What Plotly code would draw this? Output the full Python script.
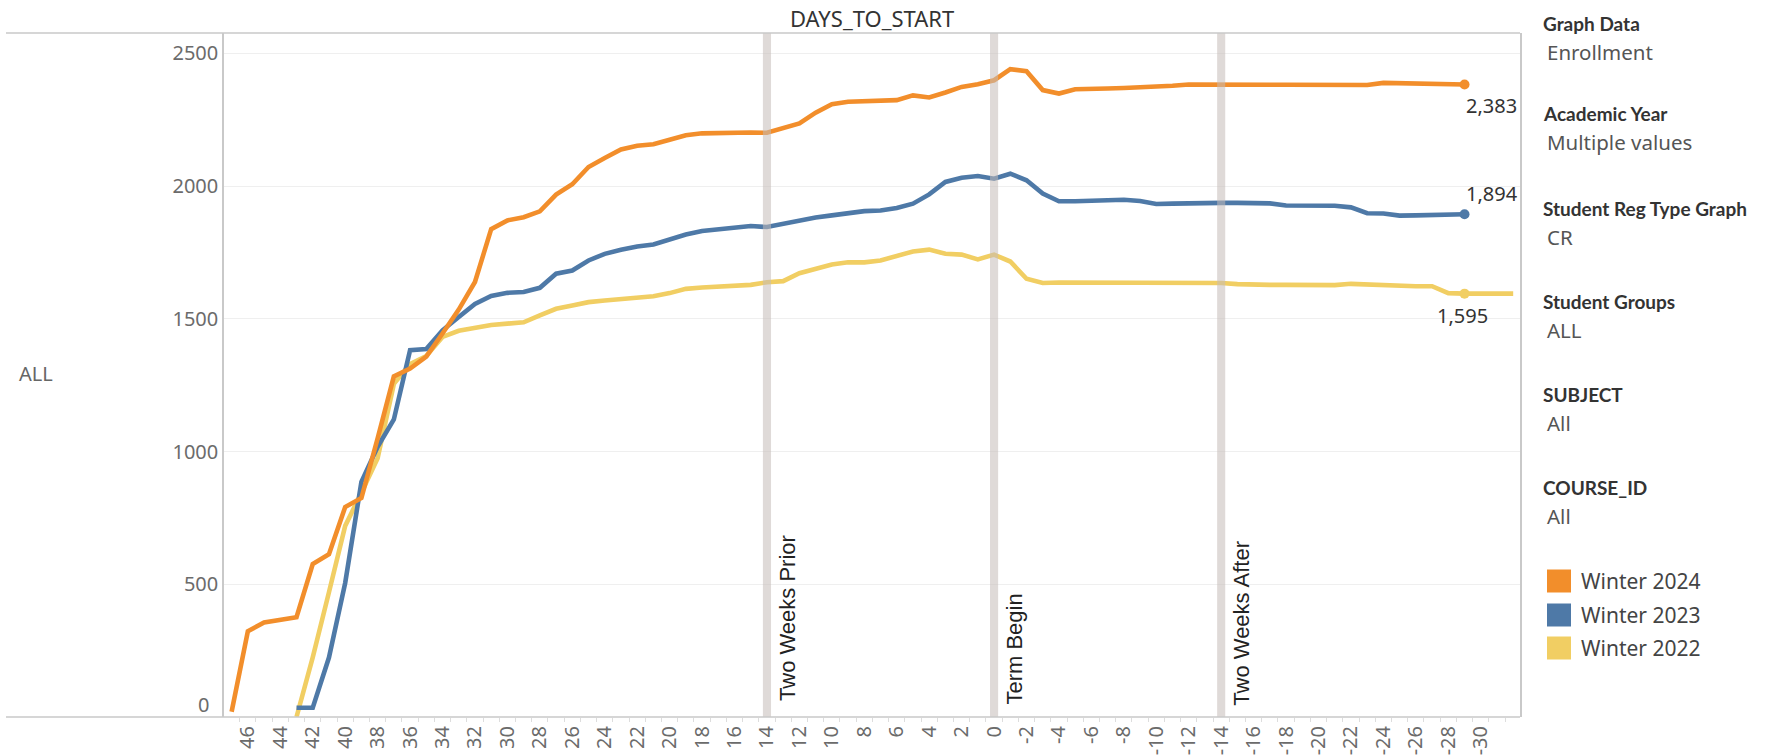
import plotly.graph_objects as go

# ---------------- data ----------------
series_names = ["Winter 2024", "Winter 2023", "Winter 2022"]
series_colors = ["#F28E2B", "#4E79A7", "#F1CE63"]
series_start_day = [47, 43, 43]

enroll_2024 = [20, 323, 356, 368, 376, 576, 613, 791, 825, 1050,
               1283, 1313, 1358, 1445, 1535, 1639, 1838, 1871, 1883, 1905,
               1968, 2007, 2072, 2106, 2138, 2152, 2158, 2175, 2192, 2199,
               2201, 2201, 2202, 2201, 2219, 2236, 2277, 2309, 2318, 2321,
               2324, 2324, 2342, 2334, 2353, 2374, 2384, 2399, 2441, 2433,
               2362, 2349, 2365, 2365, 2368, 2370, 2372, 2374, 2378, 2383,
               2382, 2382, 2382, 2382, 2382, 2382, 2382, 2382, 2382, 2382,
               2381, 2389, 2388, 2387, 2386, 2385, 2383]
enroll_2023 = [35, 35, 224, 505, 886, 1018, 1121, 1382, 1386, 1457,
               1507, 1556, 1586, 1598, 1601, 1617, 1670, 1682, 1720, 1745,
               1760, 1773, 1780, 1798, 1818, 1831, 1836, 1843, 1850, 1846,
               1858, 1871, 1882, 1890, 1899, 1906, 1908, 1918, 1934, 1969,
               2016, 2032, 2038, 2028, 2047, 2022, 1972, 1943, 1943, 1944,
               1945, 1949, 1944, 1933, 1934, 1936, 1937, 1937, 1937, 1935,
               1935, 1927, 1926, 1926, 1926, 1920, 1898, 1897, 1889, 1890,
               1891, 1892, 1894]
enroll_2022 = [0, 225, 470, 720, 845, 975, 1255, 1330, 1360, 1432,
               1455, 1468, 1477, 1482, 1487, 1513, 1538, 1550, 1563, 1569,
               1574, 1577, 1585, 1597, 1613, 1618, 1621, 1623, 1628, 1638,
               1642, 1672, 1690, 1705, 1713, 1713, 1720, 1739, 1754, 1761,
               1745, 1742, 1724, 1742, 1716, 1651, 1635, 1637, 1637, 1637,
               1637, 1635, 1637, 1635, 1635, 1635, 1635, 1635, 1631, 1628,
               1628, 1628, 1628, 1628, 1627, 1632, 1630, 1624, 1622, 1623,
               1623, 1597, 1595, 1595, 1595, 1595]
series_values = [enroll_2024, enroll_2023, enroll_2022]
label_day = -29

x_tick_days = list(range(46, -31, -2))
x_tick_labels = [str(d) for d in x_tick_days]
y_tick_vals = [0, 500, 1000, 1500, 2000, 2500]
y_tick_labels = ["0", "500", "1000", "1500", "2000", "2500"]

ref_days = [14, 0, -14]
ref_labels = ["Two Weeks Prior", "Term Begin", "Two Weeks After"]

header_text = "DAYS_TO_START"
row_label = "ALL"
filter_titles = ["Graph Data", "Academic Year", "Student Reg Type Graph",
                 "Student Groups", "SUBJECT", "COURSE_ID"]
filter_values = ["Enrollment", "Multiple values", "CR", "ALL", "All", "All"]

# ---------------- layout geometry (pixels) ----------------
W, H = 1785, 755
L, R, T, B = 224, 1520, 33, 717


def px(xp):
    return (xp - L) / (R - L)


def py(yp):
    return (B - yp) / (B - T)


TXT_FONT = "Noto Sans, Open Sans, sans-serif"
TICK_FONT = dict(family=TXT_FONT, size=20, color="#6b6b6b")

fig = go.Figure()

# lines: yellow first, orange on top
for i in [2, 1, 0]:
    vals = series_values[i]
    days = [series_start_day[i] - k for k in range(len(vals))]
    fig.add_trace(go.Scatter(
        x=days, y=vals, mode="lines", name=series_names[i],
        line=dict(color=series_colors[i], width=4.6),
        hovertemplate="%{x}: %{y:,}<extra>" + series_names[i] + "</extra>",
    ))
    idx = days.index(label_day)
    fig.add_trace(go.Scatter(
        x=[label_day], y=[vals[idx]], mode="markers", showlegend=False,
        marker=dict(color=series_colors[i], size=10), hoverinfo="skip",
    ))

# end-of-line value labels
label_offsets = [("left", -1, -21), ("left", -1, 21), ("center", -2, -22)]
for i, vals in enumerate(series_values):
    days = [series_start_day[i] - k for k in range(len(vals))]
    v = vals[days.index(label_day)]
    xa, xs, ys = label_offsets[i]
    fig.add_annotation(
        x=label_day, y=v, text=f"{v:,}", showarrow=False,
        xanchor=xa, yanchor="middle", xshift=xs, yshift=ys,
        font=dict(family=TXT_FONT, size=20, color="#333333"),
    )

# reference bands + labels
ref_label_bottom = [703, 707, 708]
for d, lab, yb in zip(ref_days, ref_labels, ref_label_bottom):
    fig.add_shape(type="rect", xref="x", yref="paper",
                  x0=d + 0.25, x1=d - 0.25, y0=0, y1=1,
                  fillcolor="rgba(196,188,184,0.55)", line_width=0, layer="above")
    fig.add_annotation(
        x=d, xref="x", y=py(yb), yref="paper", text=lab, textangle=-90,
        showarrow=False, xanchor="center", yanchor="bottom", xshift=20,
        font=dict(family="Liberation Sans, Arial, sans-serif", size=22, color="#222222"),
    )

# header / row-area border lines
line_col = "#c9c9c9"
fig.add_shape(type="line", xref="paper", yref="paper", x0=px(6), x1=1, y0=1, y1=1,
              line=dict(color=line_col, width=1.5))
fig.add_shape(type="line", xref="paper", yref="paper", x0=px(6), x1=1, y0=0, y1=0,
              line=dict(color=line_col, width=1.5))

fig.add_annotation(xref="paper", yref="paper", x=0.5, y=py(18), text=header_text,
                   showarrow=False, xanchor="center", yanchor="middle",
                   font=dict(family=TXT_FONT, size=22, color="#333333"))
fig.add_annotation(xref="paper", yref="paper", x=px(17), y=py(373), text=row_label,
                   showarrow=False, xanchor="left", yanchor="middle",
                   font=dict(family=TXT_FONT, size=20, color="#666666"))
# "0" tick label sits inside the pane like the original
fig.add_annotation(xref="paper", yref="paper", x=px(211), y=py(704), text=y_tick_labels[0],
                   showarrow=False, xanchor="right", yanchor="middle", font=TICK_FONT)

# filter panel
title_y = [23, 113, 208, 301, 394, 487]
for t, v, yt in zip(filter_titles, filter_values, title_y):
    fig.add_annotation(xref="paper", yref="paper", x=px(1541), y=py(yt), text=t,
                       showarrow=False, xanchor="left", yanchor="middle",
                       font=dict(family="Lato, Noto Sans, sans-serif", size=19,
                                 color="#333333", weight="bold"))
    fig.add_annotation(xref="paper", yref="paper", x=px(1545), y=py(yt + 29), text=v,
                       showarrow=False, xanchor="left", yanchor="middle",
                       font=dict(family=TXT_FONT, size=20.5, color="#555555"))

# colour legend
legend_y = [581, 615, 648]
for name, col, yl in zip(series_names, series_colors, legend_y):
    fig.add_shape(type="rect", xref="paper", yref="paper",
                  x0=px(1547), x1=px(1571), y0=py(yl + 11.5), y1=py(yl - 11.5),
                  fillcolor=col, line_width=0)
    fig.add_annotation(xref="paper", yref="paper", x=px(1579), y=py(yl), text=name,
                       showarrow=False, xanchor="left", yanchor="middle",
                       font=dict(family=TXT_FONT, size=21, color="#444444"))

fig.update_xaxes(
    range=[47.47, -32.42], tickmode="array", tickvals=x_tick_days, ticktext=x_tick_labels,
    tickangle=-90, tickfont=TICK_FONT, ticks="", ticklabelstandoff=4, automargin=False,
    showgrid=False, zeroline=False, showline=False,
    minor=dict(tickmode="array", tickvals=[d + 0.5 for d in range(47, -33, -1)],
               ticks="outside", ticklen=4, tickcolor="#dddddd", tickwidth=1, showgrid=False),
)
fig.update_yaxes(
    range=[0, 2577], tickmode="array", tickvals=y_tick_vals,
    ticktext=[""] + y_tick_labels[1:], tickfont=TICK_FONT, ticks="", ticklabelstandoff=0,
    automargin=False,
    showgrid=True, gridcolor="#efefef", gridwidth=1, zeroline=False,
    showline=True, mirror=True, linecolor=line_col, linewidth=1.5,
)
fig.update_layout(
    width=W, height=H, showlegend=False,
    margin=dict(l=L, r=W - R, t=T, b=H - B, pad=0, autoexpand=False),
    paper_bgcolor="white", plot_bgcolor="white",
)

fig.write_html(
    "out.html",
    config={"displayModeBar": False},
    post_script="document.body.style.margin='0px';"
                "document.documentElement.style.overflow='hidden';",
)
